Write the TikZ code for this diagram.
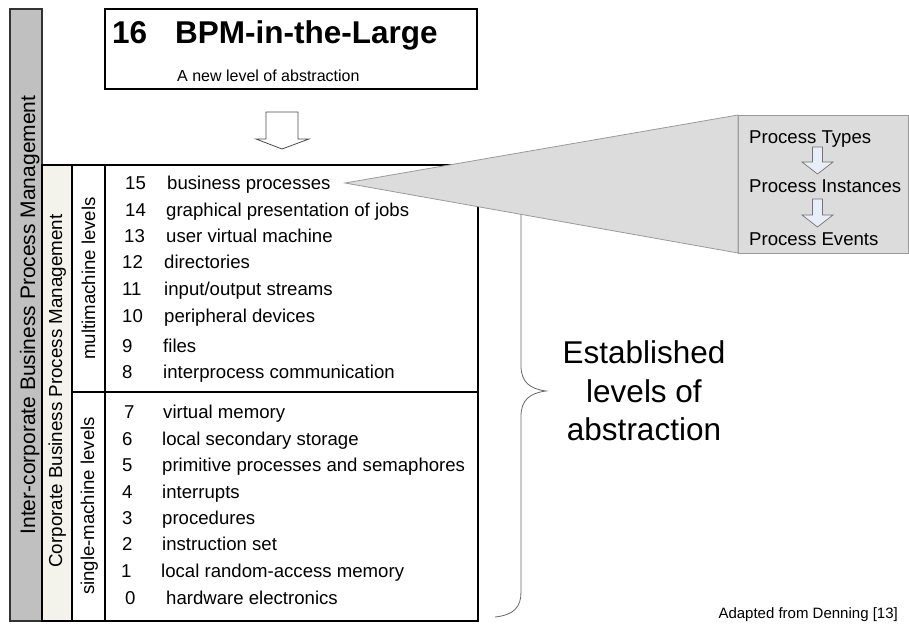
\documentclass[tikz,border=0pt]{standalone}
\usepackage{fontspec}
\setmainfont{Liberation Sans}
\definecolor{barGray}{HTML}{C0C0C0}
\definecolor{corpCream}{HTML}{F3F3EC}
\definecolor{calloutGray}{HTML}{DCDCDC}
\definecolor{calloutLine}{HTML}{9A9A9A}
\definecolor{arrowFill}{HTML}{E8EEF7}
\begin{document}
\begin{tikzpicture}[x=1pt,y=-1pt,
  txt/.style={inner sep=0pt, anchor=base west, font=\fontsize{18.6}{22}\selectfont},
  vlabel/.style={inner sep=0pt, anchor=base, rotate=90},
  frame/.style={draw=black, line width=1.6pt},
  hollowarrow/.style={fill=white, draw=black!70, line width=0.8pt},
  smallarrow/.style={fill=arrowFill, draw=black!55, line width=0.7pt},
  bracestyle/.style={draw=black!60, line width=0.8pt},
  callout/.style={fill=calloutGray, draw=calloutLine, line width=0.8pt}]
\useasboundingbox (0,0) rectangle (909,624);

% outer grey bar
\draw[fill=barGray, draw=black!80, line width=1.5pt] (10,9) rectangle (42,621);
\node[vlabel, font=\fontsize{21}{24}\selectfont] (inter) at (35,315) {Inter-corporate Business Process Management};

% corporate bar
\draw[fill=corpCream, frame] (42,165) rectangle (72,621);
\node[vlabel, font=\fontsize{18.8}{22}\selectfont] (corp) at (62,391) {Corporate Business Process Management};

% main box with column
\draw[frame] (72,165) rectangle (478,621);
\draw[frame] (105,165) -- (105,621);
\draw[frame] (72,392) -- (478,392);
\node[vlabel, font=\fontsize{18.6}{22}\selectfont] (multi) at (95,278.5) {multimachine levels};
\node[vlabel, font=\fontsize{18.6}{22}\selectfont] (single) at (94,506) {single-machine levels};

% top box
\draw[frame] (105,9) rectangle (477,89);
\node[inner sep=0pt, anchor=base west, font=\fontsize{31.5}{36}\selectfont\bfseries] (n16) at (112,43.5) {16};
\node[inner sep=0pt, anchor=base west, font=\fontsize{31.5}{36}\selectfont\bfseries] (bpm) at (175,43.5) {BPM-in-the-Large};
\node[inner sep=0pt, anchor=base west, font=\fontsize{16}{19}\selectfont] (newlevel) at (177,81) {A new level of abstraction};

% hollow arrow from top box to main box
\draw[hollowarrow] (266,112) -- (298,112) -- (298,139) -- (309,139) -- (282,149) -- (256,139) -- (266,139) -- cycle;

% levels
\node[txt] (l15n) at (125,189) {15}; \node[txt] (l15) at (167,189) {business processes};
\node[txt] (l14n) at (125,216) {14}; \node[txt] (l14) at (166,216) {graphical presentation of jobs};
\node[txt] (l13n) at (124,242) {13}; \node[txt] (l13) at (166,242) {user virtual machine};
\node[txt] (l12n) at (122,268) {12}; \node[txt] (l12) at (164,268) {directories};
\node[txt] (l11n) at (122,295) {11}; \node[txt] (l11) at (164,295) {input/output streams};
\node[txt] (l10n) at (122,322) {10}; \node[txt] (l10) at (164,322) {peripheral devices};
\node[txt] (l9n) at (122,352) {9}; \node[txt] (l9) at (163,352) {files};
\node[txt] (l8n) at (122,378) {8}; \node[txt] (l8) at (163,378) {interprocess communication};
\node[txt] (l7n) at (124,418) {7}; \node[txt] (l7) at (163,418) {virtual memory};
\node[txt] (l6n) at (122,445) {6}; \node[txt] (l6) at (162,445) {local secondary storage};
\node[txt] (l5n) at (122,471) {5}; \node[txt] (l5) at (162,471) {primitive processes and semaphores};
\node[txt] (l4n) at (122,498) {4}; \node[txt] (l4) at (162,498) {interrupts};
\node[txt] (l3n) at (122,524) {3}; \node[txt] (l3) at (162,524) {procedures};
\node[txt] (l2n) at (122,550) {2}; \node[txt] (l2) at (162,550) {instruction set};
\node[txt] (l1n) at (121,577) {1}; \node[txt] (l1) at (161,577) {local random-access memory};
\node[txt] (l0n) at (125,604) {0}; \node[txt] (l0) at (166,604) {hardware electronics};

% brace
\draw[bracestyle] (495,165) .. controls (514,167) and (521,175) .. (521,190) -- (521,366)
  .. controls (521,382) and (530,389) .. (546,391)
  .. controls (530,393) and (521,400) .. (521,416) -- (521,592)
  .. controls (521,607) and (514,615) .. (495,617);

% callout
\draw[callout] (738,115) rectangle (908,253);
\draw[callout] (345,183) -- (738,115) -- (738,253) -- cycle;
\node[txt] (ptypes) at (749,143) {Process Types};
\node[txt] (pinst) at (749,192) {Process Instances};
\node[txt] (pevents) at (749,245) {Process Events};
\draw[smallarrow] (812.5,147) -- (822.5,147) -- (822.5,162) -- (833,162) -- (817.5,174) -- (802,162) -- (812.5,162) -- cycle;
\draw[smallarrow] (812.5,199) -- (822.5,199) -- (822.5,215) -- (833,215) -- (817.5,227) -- (802,215) -- (812.5,215) -- cycle;

% established levels
\node[inner sep=0pt, anchor=base, font=\fontsize{31.5}{38}\selectfont] (est1) at (644,363) {Established};
\node[inner sep=0pt, anchor=base, font=\fontsize{31.5}{38}\selectfont] (est2) at (644,402) {levels of};
\node[inner sep=0pt, anchor=base, font=\fontsize{31.5}{38}\selectfont] (est3) at (644,440) {abstraction};

% source note
\node[inner sep=0pt, anchor=base east, font=\fontsize{15}{18}\selectfont] (src) at (898,618) {Adapted from Denning [13]};
\end{tikzpicture}
\end{document}
